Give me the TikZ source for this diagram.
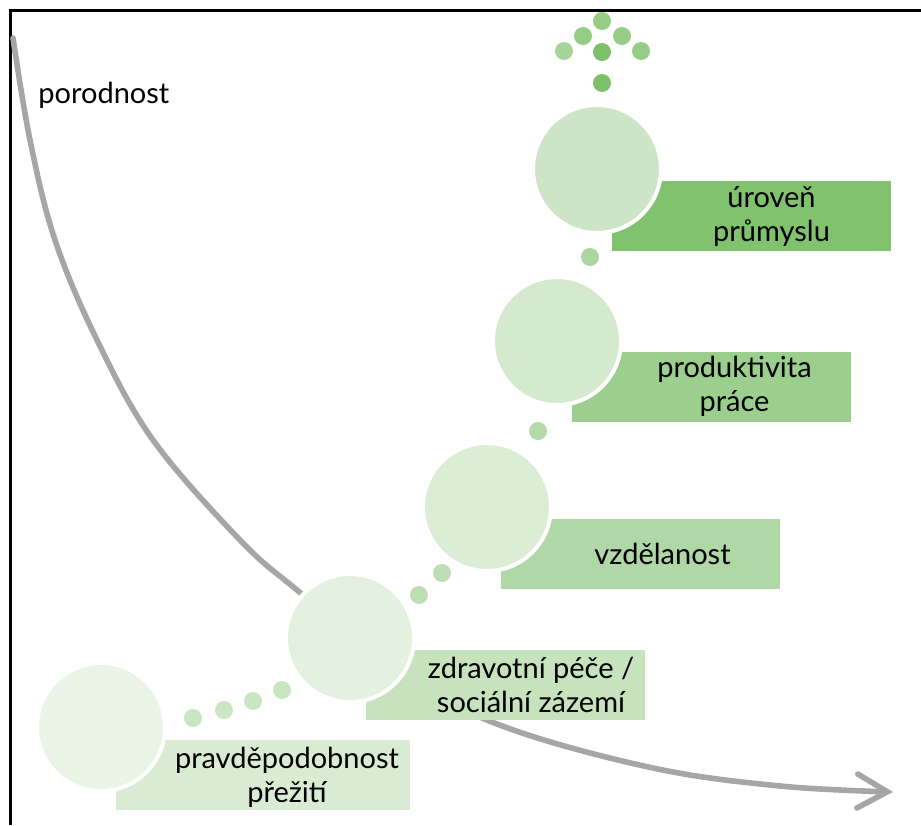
\documentclass[tikz,border=0pt]{standalone}
\usepackage{fontspec}
\setmainfont{Lato}
\usetikzlibrary{positioning,arrows.meta}

\definecolor{curvegray}{HTML}{A6A6A6}
\definecolor{cA}{HTML}{EAF4E6}
\definecolor{cB}{HTML}{E4F1E0}
\definecolor{cC}{HTML}{DCEDD6}
\definecolor{cD}{HTML}{D4E9CE}
\definecolor{cE}{HTML}{CDE5C6}
\definecolor{rA}{HTML}{D9ECD3}
\definecolor{rB}{HTML}{C6E3BE}
\definecolor{rC}{HTML}{B0D8A6}
\definecolor{rD}{HTML}{9CCE8E}
\definecolor{rE}{HTML}{80C26E}
\definecolor{dotA}{HTML}{C9E5C1}
\definecolor{dotB}{HTML}{BEDFB4}
\definecolor{dotC}{HTML}{B3DAA8}
\definecolor{dotD}{HTML}{ABD69F}
\definecolor{dotE}{HTML}{7CC06A}
\definecolor{dotF}{HTML}{95CD87}
\definecolor{dotG}{HTML}{A6D499}

\begin{document}
\begin{tikzpicture}[x=0.5pt,y=-0.5pt,
    stage/.style={circle,minimum size=64pt,inner sep=0pt,draw=white,line width=2pt},
    bar/.style={rectangle,minimum width=139.5pt,minimum height=35pt,inner sep=0pt},
    lbl/.style={font=\fontsize{14.5}{17}\selectfont,align=center,text=black,inner sep=0pt},
    trend/.style={draw=curvegray,line width=2.8pt,line cap=round,
      -{Straight Barb[length=15pt,width=17pt,line cap=round]}}]

    \useasboundingbox (0,0) rectangle (921,825);

    % frame
    \draw[line width=1.5pt] (10,825) -- (10,10) -- (921,10);

    % falling birth rate
    \draw[trend] plot[smooth,tension=0.6] coordinates {(13,38) (30,140) (55,240) (97,340) (153,440)
      (240,540) (297,590) (405,676) (505,727) (653,768) (780,786) (893,792)};
    \node[lbl,anchor=west] (por) at (38,95) {porodnost};

    % bars
    \node[bar,fill=rA,minimum width=147pt] (r1) at (263,775) {};
    \node[bar,fill=rB] (r2) at (505,685) {};
    \node[bar,fill=rC] (r3) at (640.5,554) {};
    \node[bar,fill=rD] (r4) at (711.5,386.5) {};
    \node[bar,fill=rE] (r5) at (751.5,216) {};

    % circles
    \node[stage,fill=cA] (c1) at (101,727) {};
    \node[stage,fill=cB] (c2) at (350,638) {};
    \node[stage,fill=cC] (c3) at (487,507) {};
    \node[stage,fill=cD] (c4) at (557,341) {};
    \node[stage,fill=cE] (c5) at (597,169) {};

    % labels
    \node[lbl] (t1) at ([xshift=12pt,yshift=-1pt]r1.center) {pravděpodobnost\\přežití};
    \node[lbl] (t2) at ([xshift=13pt]r2.center) {zdravotní péče /\\sociální zázemí};
    \node[lbl] (t3) at ([xshift=11pt]r3.center) {vzdělanost};
    \node[lbl] (t4) at ([xshift=11.5pt]r4.center) {produktivita\\práce};
    \node[lbl] (t5) at ([xshift=10pt]r5.center) {úroveň\\průmyslu};

    % dots
    \foreach \px/\py/\dc in {193/718/dotA, 224/710/dotA, 253/701/dotA, 282/690/dotA,
        419/595/dotB, 442/573/dotB, 538/431/dotC, 590/257/dotD, 602/83/dotE,
        602/21/dotF, 583/36/dotF, 622/36/dotF, 564/51/dotG, 602/52/dotE, 641/51/dotF}
      \fill[\dc] (\px,\py) circle (4.5pt);

\end{tikzpicture}
\end{document}
